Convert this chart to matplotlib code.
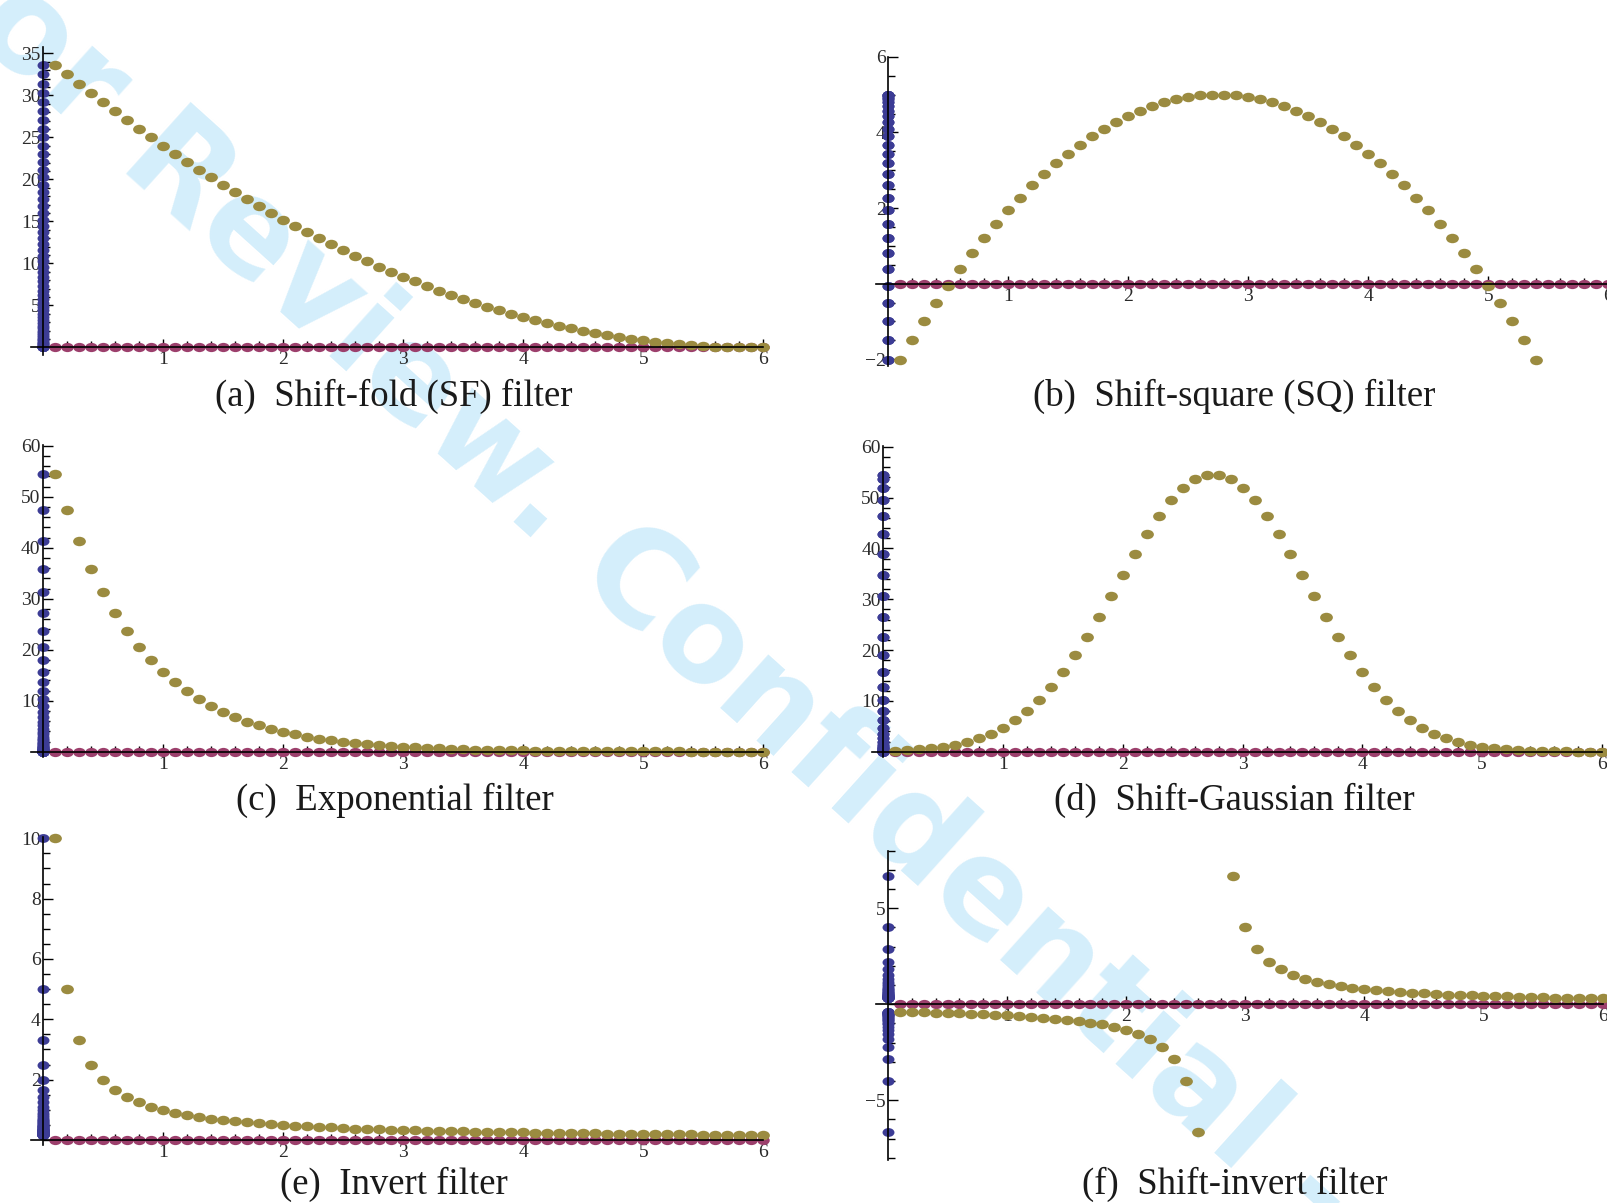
#!/usr/bin/env python3
"""
Spectral filter comparison figure

Six panels, one per filter. Each panel shows the filter response sampled
at x = 0.1 ... 6.0 (gold), the sample positions projected onto the x axis
(magenta) and the filtered values projected onto the y axis (blue).
"""

import numpy as np
import matplotlib.pyplot as plt
from matplotlib.path import Path
from matplotlib.transforms import Affine2D

# Sample positions
X = [0.1, 0.2, 0.3, 0.4, 0.5, 0.6, 0.7, 0.8, 0.9, 1.0,
     1.1, 1.2, 1.3, 1.4, 1.5, 1.6, 1.7, 1.8, 1.9, 2.0,
     2.1, 2.2, 2.3, 2.4, 2.5, 2.6, 2.7, 2.8, 2.9, 3.0,
     3.1, 3.2, 3.3, 3.4, 3.5, 3.6, 3.7, 3.8, 3.9, 4.0,
     4.1, 4.2, 4.3, 4.4, 4.5, 4.6, 4.7, 4.8, 4.9, 5.0,
     5.1, 5.2, 5.3, 5.4, 5.5, 5.6, 5.7, 5.8, 5.9, 6.0]

# Filter responses at the sample positions
SHIFT_FOLD = [33.64, 32.49, 31.36, 30.25, 29.16, 28.09, 27.04, 26.01, 25.00, 24.01,
              23.04, 22.09, 21.16, 20.25, 19.36, 18.49, 17.64, 16.81, 16.00, 15.21,
              14.44, 13.69, 12.96, 12.25, 11.56, 10.89, 10.24, 9.61, 9.00, 8.41,
              7.84, 7.29, 6.76, 6.25, 5.76, 5.29, 4.84, 4.41, 4.00, 3.61,
              3.24, 2.89, 2.56, 2.25, 1.96, 1.69, 1.44, 1.21, 1.00, 0.81,
              0.64, 0.49, 0.36, 0.25, 0.16, 0.09, 0.04, 0.01, 0.00, 0.01]

SHIFT_SQUARE = [-2.02, -1.50, -1.00, -0.52, -0.06, 0.38, 0.80, 1.20, 1.58, 1.94,
                2.28, 2.60, 2.90, 3.18, 3.44, 3.68, 3.90, 4.10, 4.28, 4.44,
                4.58, 4.70, 4.80, 4.88, 4.94, 4.98, 5.00, 5.00, 4.98, 4.94,
                4.88, 4.80, 4.70, 4.58, 4.44, 4.28, 4.10, 3.90, 3.68, 3.44,
                3.18, 2.90, 2.60, 2.28, 1.94, 1.58, 1.20, 0.80, 0.38, -0.06,
                -0.52, -1.00, -1.50, -2.02, -2.56, -3.12, -3.70, -4.30, -4.92, -5.56]

EXPONENTIAL = [54.41, 47.37, 41.24, 35.90, 31.25, 27.21, 23.68, 20.62, 17.95, 15.63,
               13.60, 11.84, 10.31, 8.97, 7.81, 6.80, 5.92, 5.15, 4.49, 3.91,
               3.40, 2.96, 2.58, 2.24, 1.95, 1.70, 1.48, 1.29, 1.12, 0.98,
               0.85, 0.74, 0.64, 0.56, 0.49, 0.43, 0.37, 0.32, 0.28, 0.24,
               0.21, 0.19, 0.16, 0.14, 0.12, 0.11, 0.09, 0.08, 0.07, 0.06,
               0.05, 0.05, 0.04, 0.03, 0.03, 0.03, 0.02, 0.02, 0.02, 0.02]

SHIFT_GAUSSIAN = [0.20, 0.30, 0.45, 0.66, 0.95, 1.35, 1.89, 2.61, 3.53, 4.71,
                  6.19, 7.99, 10.16, 12.71, 15.64, 18.95, 22.60, 26.52, 30.63, 34.81,
                  38.94, 42.86, 46.43, 49.50, 51.94, 53.62, 54.49, 54.49, 53.62, 51.94,
                  49.50, 46.43, 42.86, 38.94, 34.81, 30.63, 26.52, 22.60, 18.95, 15.64,
                  12.71, 10.16, 7.99, 6.19, 4.71, 3.53, 2.61, 1.89, 1.35, 0.95,
                  0.66, 0.45, 0.30, 0.20, 0.13, 0.08, 0.05, 0.03, 0.02, 0.01]

INVERT = [10.00, 5.00, 3.33, 2.50, 2.00, 1.67, 1.43, 1.25, 1.11, 1.00,
          0.91, 0.83, 0.77, 0.71, 0.67, 0.63, 0.59, 0.56, 0.53, 0.50,
          0.48, 0.45, 0.43, 0.42, 0.40, 0.38, 0.37, 0.36, 0.34, 0.33,
          0.32, 0.31, 0.30, 0.29, 0.29, 0.28, 0.27, 0.26, 0.26, 0.25,
          0.24, 0.24, 0.23, 0.23, 0.22, 0.22, 0.21, 0.21, 0.20, 0.20,
          0.20, 0.19, 0.19, 0.19, 0.18, 0.18, 0.18, 0.17, 0.17, 0.17]

SHIFT_INVERT = [-0.38, -0.39, -0.41, -0.43, -0.44, -0.47, -0.49, -0.51, -0.54, -0.57,
                -0.61, -0.65, -0.69, -0.74, -0.80, -0.87, -0.95, -1.05, -1.18, -1.33,
                -1.54, -1.82, -2.22, -2.86, -4.00, -6.67, -20.00, 20.00, 6.67, 4.00,
                2.86, 2.22, 1.82, 1.54, 1.33, 1.18, 1.05, 0.95, 0.87, 0.80,
                0.74, 0.69, 0.65, 0.61, 0.57, 0.54, 0.51, 0.49, 0.47, 0.44,
                0.43, 0.41, 0.39, 0.38, 0.36, 0.35, 0.34, 0.33, 0.32, 0.31]

CAPTIONS = ['(a)  Shift-fold (SF) filter',
            '(b)  Shift-square (SQ) filter',
            '(c)  Exponential filter',
            '(d)  Shift-Gaussian filter',
            '(e)  Invert filter',
            '(f)  Shift-invert filter']

WATERMARK = 'For Review. Confidential -'

BLUE = '#3c3c95'
MAGENTA = '#9c3f6c'
GOLD = '#9b8b40'

W, H = 1608, 1203

# Slightly wide dots
DOT = Path.unit_circle().transformed(Affine2D().scale(1.0, 0.74))


def panel_rect(px0, sx, py0, sy, xlim, ylim):
    """Axes rectangle (figure fraction) from the pixel position of the origin
    and the pixel size of one data unit."""
    left = (px0 + xlim[0] * sx) / W
    width = (xlim[1] - xlim[0]) * sx / W
    bottom = 1 - (py0 - ylim[0] * sy) / H
    height = (ylim[1] - ylim[0]) * sy / H
    return [left, bottom, width, height]


def draw_panel(fig, values, spec, caption):
    """Draw one filter panel in Mathematica-like axes style"""
    xlim = (-0.3, 6.2)
    ax = fig.add_axes(panel_rect(spec['px0'], spec['sx'], spec['py0'], spec['sy'],
                                 xlim, spec['ylim']))
    ax.set_facecolor('none')
    ax.set_xlim(*xlim)
    ax.set_ylim(*spec['ylim'])

    n = len(X)
    ax.plot([0] * n, values, ls='none', marker=DOT, ms=8.6, mew=0, color=BLUE, zorder=2)
    ax.plot(X, [0] * n, ls='none', marker=DOT, ms=9.0, mew=0, color=MAGENTA, zorder=2.1)
    ax.plot(X, values, ls='none', marker=DOT, ms=9.2, mew=0, color=GOLD, zorder=2.2)

    # Axes crossing at the origin
    for side in ('top', 'right'):
        ax.spines[side].set_visible(False)
    ax.spines['left'].set_position(('data', 0))
    ax.spines['bottom'].set_position(('data', 0))
    ax.spines['left'].set_bounds(*spec['ybounds'])
    ax.spines['bottom'].set_bounds(-0.1, 6.0)
    for side in ('left', 'bottom'):
        ax.spines[side].set_linewidth(1.2)
        ax.spines[side].set_zorder(3)

    ax.set_xticks([1, 2, 3, 4, 5, 6])
    ax.set_xticks(np.round(np.arange(0.2, 6.01, 0.2), 2), minor=True)
    ax.set_yticks(spec['major'])
    lo, hi = spec['ybounds']
    step = spec['minor']
    ax.set_yticks(np.arange(np.ceil(lo / step) * step, hi + 1e-9, step), minor=True)
    ax.set_yticklabels([f'{v:g}'.replace('-', '\u2212') for v in spec['major']])

    ax.tick_params(axis='both', which='both', direction='in', color='black',
                   width=1.0, labelsize=14, labelcolor='#2a2a2a', zorder=3)
    ax.tick_params(axis='y', which='major', length=7.5, pad=2)
    ax.tick_params(axis='y', which='minor', length=5)
    ax.tick_params(axis='x', which='major', length=6, pad=3)
    ax.tick_params(axis='x', which='minor', length=4)
    for lab in ax.get_xticklabels() + ax.get_yticklabels():
        lab.set_family('Liberation Serif')

    cx, cy = spec['caption']
    fig.text(cx / W, 1 - cy / H, caption, ha='center', va='center',
             family='Liberation Serif', fontsize=26.5, color='#1a1a1a')


def main():
    fig = plt.figure(figsize=(W / 100, H / 100), dpi=100)
    fig.patch.set_facecolor('white')

    # Diagonal review stamp behind everything
    fig.text(0.394, 0.517, WATERMARK, rotation=-42, rotation_mode='anchor',
             ha='center', va='center', fontsize=94, fontweight='bold',
             family='DejaVu Sans', color='#d4eefb', zorder=-5)

    specs = [
        dict(px0=43.3, sx=120.0, py0=347.3, sy=8.4, ylim=(-2.0, 37.0),
             ybounds=(-0.9, 35.8), major=[5, 10, 15, 20, 25, 30, 35], minor=1,
             caption=(394, 396)),
        dict(px0=888.3, sx=120.0, py0=283.7, sy=37.8, ylim=(-2.3, 6.3),
             ybounds=(-2.17, 6.0), major=[-2, 2, 4, 6], minor=0.5,
             caption=(1234, 396)),
        dict(px0=43.3, sx=120.0, py0=751.7, sy=5.1, ylim=(-2.0, 62.0),
             ybounds=(-1.0, 60.1), major=[10, 20, 30, 40, 50, 60], minor=2,
             caption=(395, 800)),
        dict(px0=883.5, sx=119.7, py0=751.7, sy=5.083, ylim=(-2.0, 62.0),
             ybounds=(-1.0, 60.1), major=[10, 20, 30, 40, 50, 60], minor=2,
             caption=(1234, 800)),
        dict(px0=43.3, sx=120.0, py0=1140.0, sy=30.17, ylim=(-0.3, 10.4),
             ybounds=(-0.17, 10.05), major=[2, 4, 6, 8, 10], minor=0.5,
             caption=(394, 1184)),
        dict(px0=888.0, sx=119.1, py0=1004.3, sy=19.2, ylim=(-8.3, 8.2),
             ybounds=(-8.1, 8.0), major=[-5, 5], minor=1,
             caption=(1235, 1184)),
    ]
    series = [SHIFT_FOLD, SHIFT_SQUARE, EXPONENTIAL, SHIFT_GAUSSIAN, INVERT, SHIFT_INVERT]

    for values, spec, caption in zip(series, specs, CAPTIONS):
        draw_panel(fig, values, spec, caption)

    fig.savefig('out.png', dpi=100, facecolor='white')
    plt.close(fig)


if __name__ == '__main__':
    main()
